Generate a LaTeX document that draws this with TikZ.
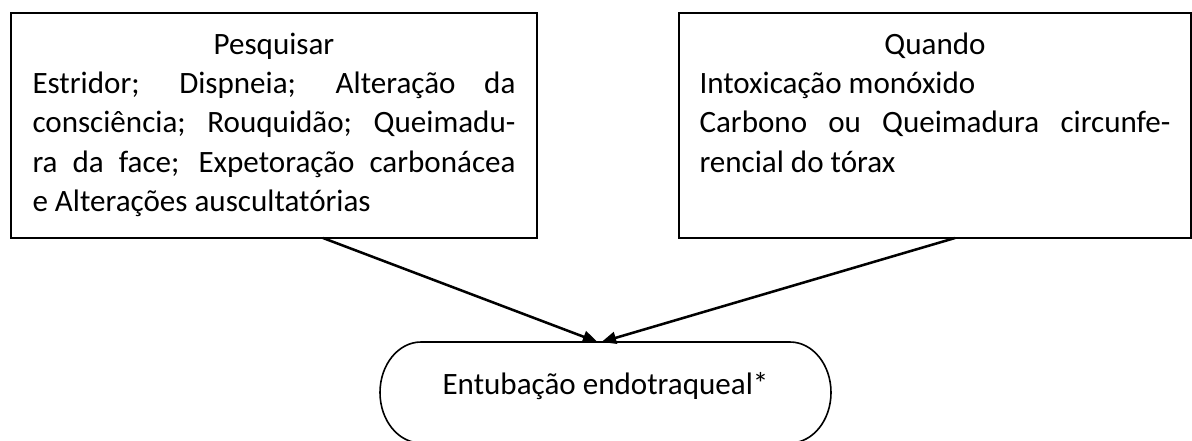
\documentclass[tikz,border=0pt]{standalone}
\usepackage{fontspec}
\setmainfont{Carlito}
\usetikzlibrary{arrows.meta}

\begin{document}
\begin{tikzpicture}[x=0.75pt,y=-0.75pt,inner sep=0pt,outer sep=0pt,
textbox/.style={draw,rectangle,line width=1.2pt,minimum height=168.75pt,font=\fontsize{23.3}{29.5}\selectfont},
endblock/.style={rectangle,minimum width=338.25pt,minimum height=75.75pt,text height=18.25pt,text depth=16pt,font=\fontsize{23.3}{29.5}\selectfont},
flow/.style={-{Triangle[length=11pt,width=9pt]},line width=1.9pt}]

\useasboundingbox (0,0) rectangle (1192,440);

\draw (274,125.5) node[textbox,minimum width=394.5pt] (pesq) {\begin{minipage}[c][148.5pt][t]{362.25pt}\hyphenpenalty=10000
{\centering\strut Pesquisar\par}
Estridor; Dispneia; Alteração da\linebreak
consciência; Rouquidão; Queimadu-\linebreak
ra da face; Expetoração carbonácea\linebreak
e Alterações auscultatórias
\end{minipage}};
\draw (935,125.5) node[textbox,minimum width=384pt] (quan) {\begin{minipage}[c][148.5pt][t]{353.25pt}\hyphenpenalty=10000
{\centering\strut Quando\par}
Intoxicação monóxido\\
Carbono ou Queimadura circunfe-\linebreak
rencial do tórax
\end{minipage}};

\draw (605.5,392.5) node[endblock] (entub) {Entubação endotraqueal*};
\draw[line width=1.2pt] ([xshift=30.75pt]entub.north west) -- ([xshift=-30.75pt]entub.north east)
  arc[start angle=90,end angle=-90,x radius=30.75pt,y radius=37.875pt] -- ([xshift=30.75pt]entub.south west)
  arc[start angle=270,end angle=90,x radius=30.75pt,y radius=37.875pt] -- cycle;

\draw[flow] ([xshift=36.75pt]pesq.south) -- ([xshift=-6pt]entub.north);
\draw[flow] ([xshift=15pt]quan.south) -- ([xshift=-3pt]entub.north);

\end{tikzpicture}
\end{document}
